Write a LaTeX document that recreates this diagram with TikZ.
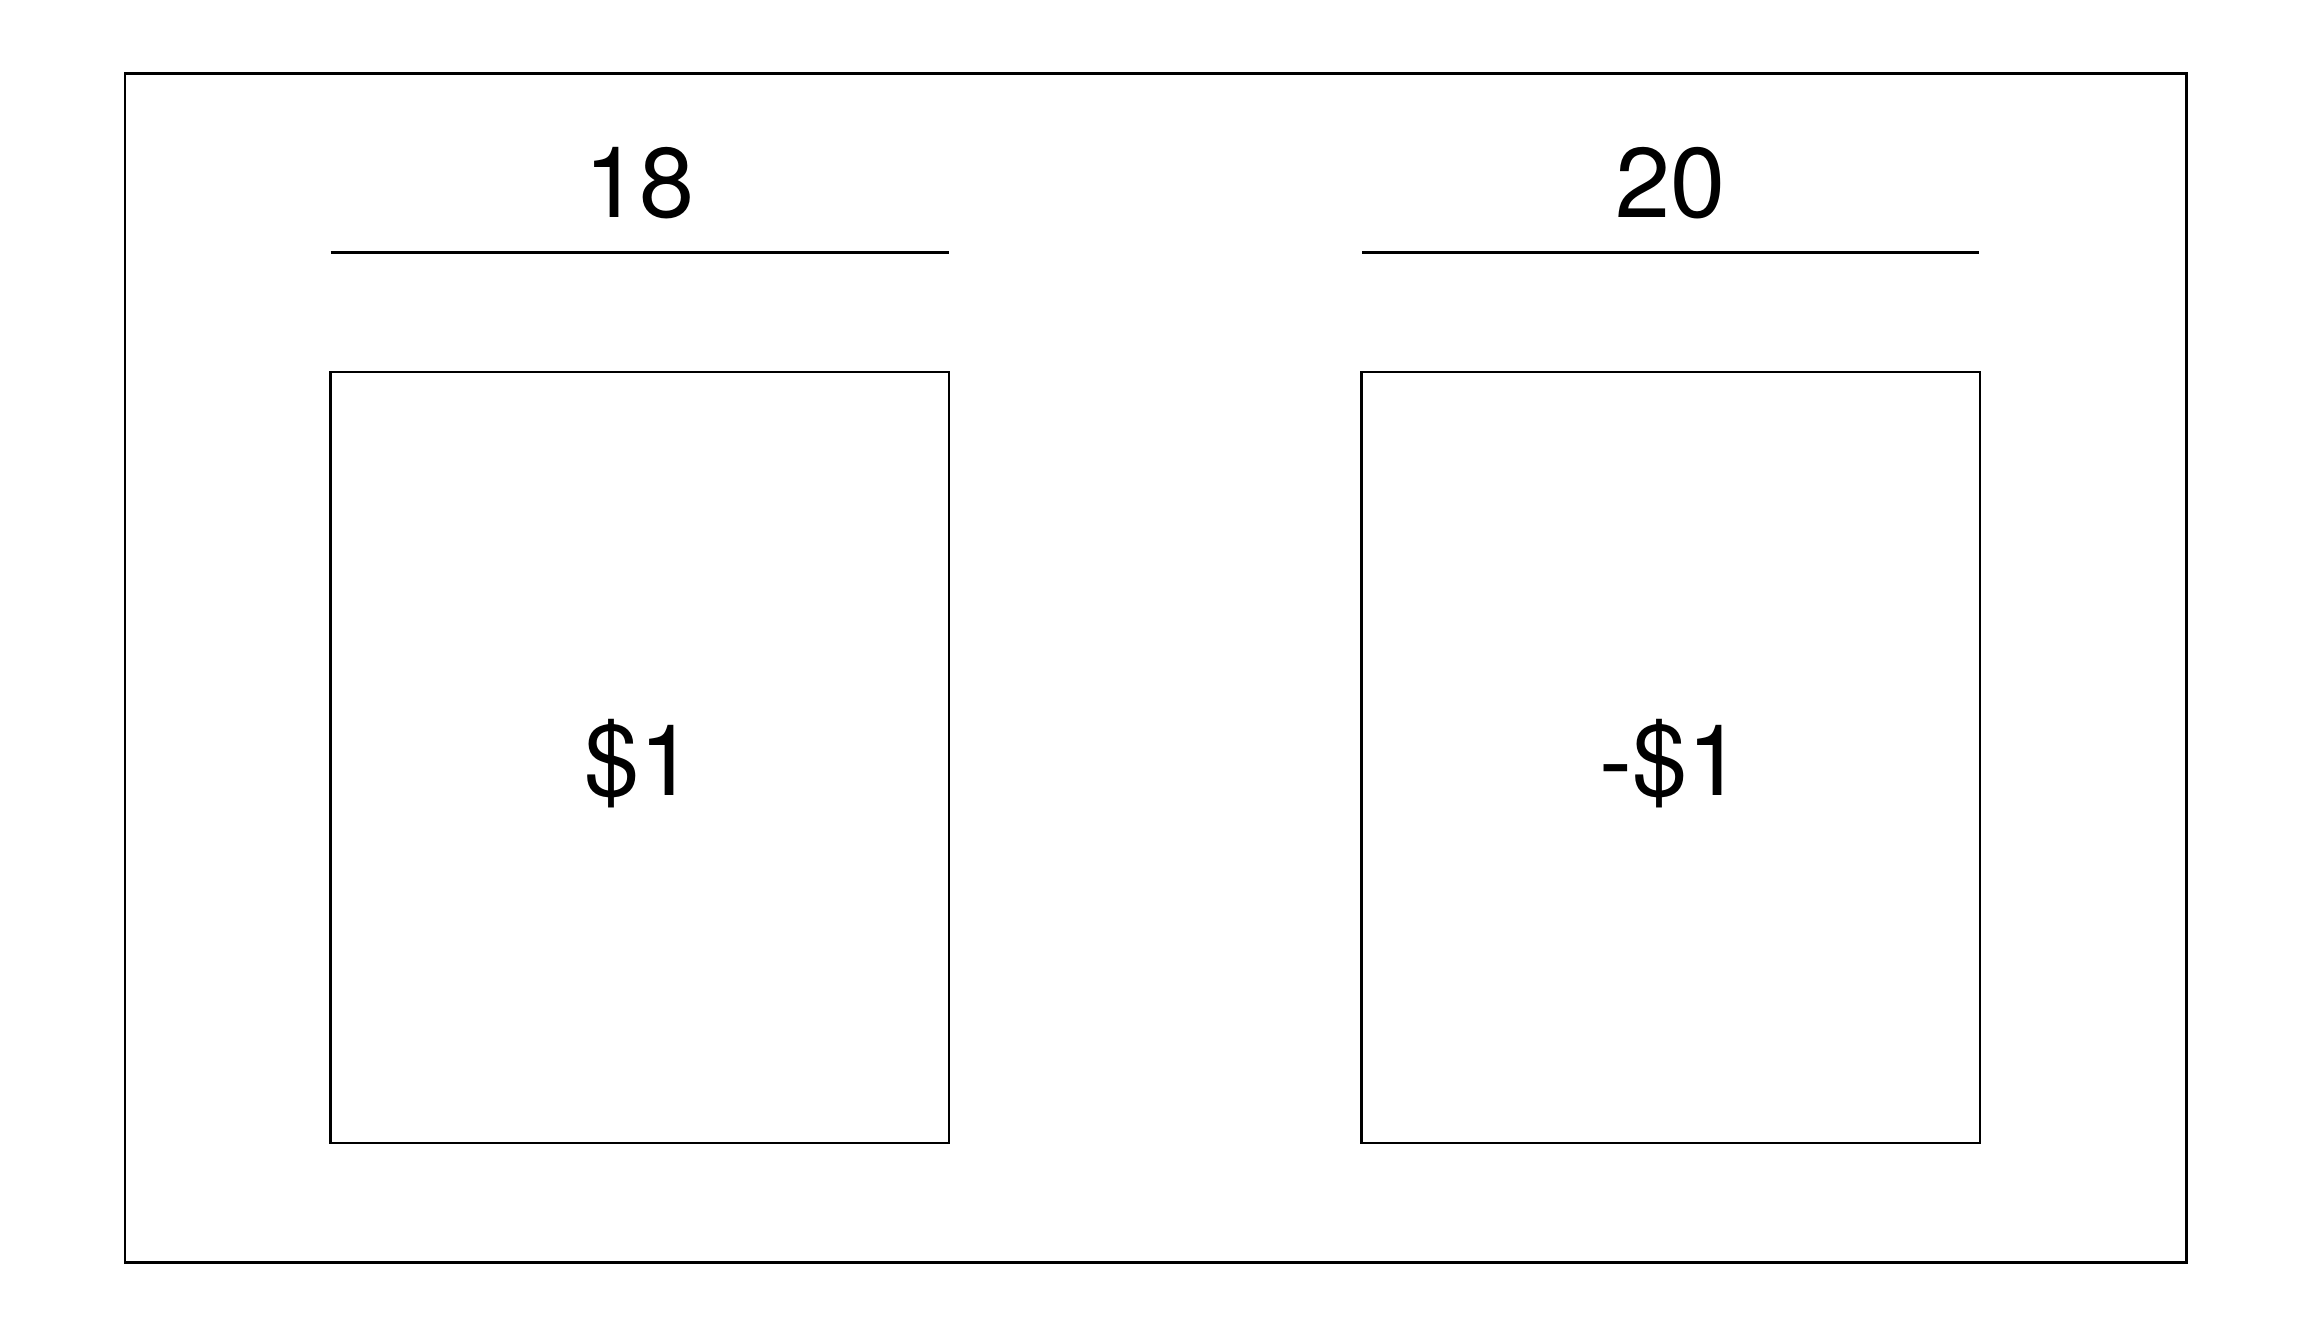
\documentclass[tikz,border=0pt]{standalone}
\usepackage{fontspec}
\setmainfont{TeX Gyre Heros}
\begin{document}
\begin{tikzpicture}[x=0.5pt,y=-0.5pt]
\tikzset{
  frame/.style={draw, line width=1.25pt, inner sep=0pt, minimum width=1030.8pt, minimum height=594.4pt},
  card/.style={draw, line width=1.25pt, inner sep=0pt, minimum width=309.3pt, minimum height=385.7pt},
  rule/.style={line width=1.25pt},
  lbl/.style={inner sep=0pt, anchor=base, font=\fontsize{49.5}{59}\selectfont}
}
\useasboundingbox (0,0) rectangle (2304,1344);
\node[frame] (outer) at (1155.7,667.9) {};
\node[card] (boxL) at (639.9,757.5) {};
\node[card] (boxR) at (1670.7,757.5) {};
\coordinate (l1a) at (330.6,252.7);
\coordinate (l1b) at (949.2,252.7);
\coordinate (l2a) at (1362.1,252.7);
\coordinate (l2b) at (1979.3,252.7);
\draw[rule] (l1a) -- (l1b);
\draw[rule] (l2a) -- (l2b);
\node[lbl] (hL) at (639.9,217.7) {18};
\node[lbl] (hR) at (1670.7,217.7) {20};
\node[lbl] (vL) at (639.9,795) {\$1};
\node[lbl] (vR) at (1670.7,795) {-\$1};
\end{tikzpicture}
\end{document}
